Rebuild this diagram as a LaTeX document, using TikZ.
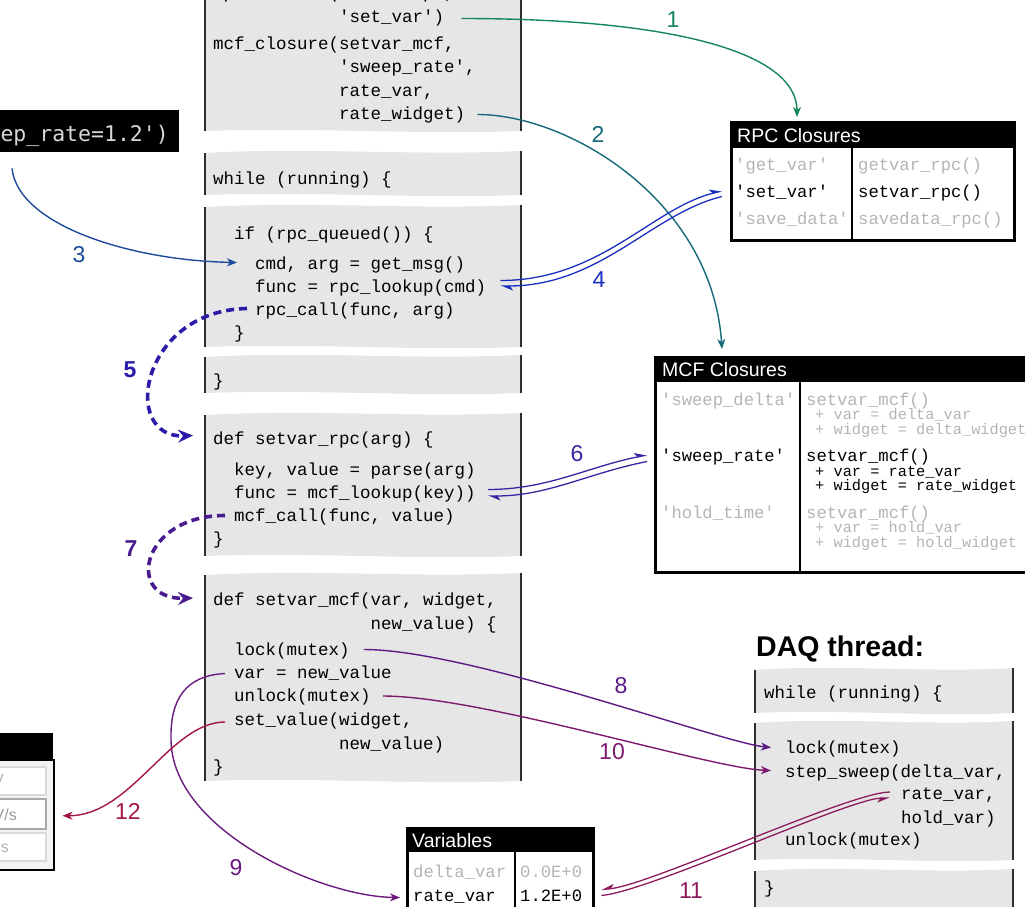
\documentclass[tikz,border=0pt]{standalone}
\usepackage{fontspec}
\setmainfont{Liberation Sans}
\setsansfont{Liberation Sans}
\setmonofont{Liberation Mono}
\newfontfamily\termfont{DejaVu Sans Mono}
\usetikzlibrary{arrows.meta,calc}

\definecolor{segfill}{HTML}{E6E6E6}
\definecolor{segedge}{HTML}{2E2E2E}
\definecolor{dimgrey}{HTML}{B4B4B4}
\definecolor{termgrey}{HTML}{D8D8D8}
\definecolor{guibg}{HTML}{F3F3F3}
\definecolor{fieldline}{HTML}{DADADA}
\definecolor{fieldsel}{HTML}{A9A9A9}
\definecolor{guitext}{HTML}{9A9A9A}
\definecolor{cOne}{HTML}{14875A}
\definecolor{cTwo}{HTML}{15697A}
\definecolor{cThree}{HTML}{1C4B9C}
\definecolor{cFour}{HTML}{1A2FBF}
\definecolor{cFive}{HTML}{2A1CA8}
\definecolor{cSix}{HTML}{3B23A3}
\definecolor{cSeven}{HTML}{4B1C8E}
\definecolor{cEight}{HTML}{5C1A86}
\definecolor{cNine}{HTML}{6B1A80}
\definecolor{cTen}{HTML}{7E1A6E}
\definecolor{cEleven}{HTML}{8D1A5E}
\definecolor{cTwelve}{HTML}{A31547}

% one torn-off strip of source code: x-left, x-right, top, bottom
\newcommand\codeseg[4]{%
  \pgfmathsetmacro\segA{#1+(#2-#1)/3}%
  \pgfmathsetmacro\segB{#1+2*(#2-#1)/3}%
  \fill[segfill] (#1,#3) .. controls (\segA,#3-6) and (\segB,#3+3) .. (#2,#3-2)
     -- (#2,#4) .. controls (\segB,#4+4) and (\segA,#4-4) .. (#1,#4) -- cycle;
  \draw[segedge, line width=2pt] (#1,#3) -- (#1,#4) (#2,#3-2) -- (#2,#4);
}

\tikzset{
  code/.style={anchor=base west, inner sep=0pt, text height=12.5pt, text depth=3.5pt,
    font=\ttfamily\fontsize{17.5pt}{17.5pt}\selectfont},
  cell/.style={code, font=\ttfamily\fontsize{17.2pt}{17.2pt}\selectfont},
  sub/.style={code, font=\ttfamily\fontsize{15.3pt}{15.3pt}\selectfont},
  dim/.style={text=dimgrey},
  hdr/.style={anchor=base west, inner sep=0pt, text=white,
    font=\fontsize{19.5pt}{19.5pt}\selectfont},
  tbl/.style={draw=black, line width=2pt, anchor=north west, inner sep=0pt},
  lbl/.style={inner sep=0pt, font=\fontsize{23pt}{23pt}\selectfont},
  blbl/.style={inner sep=0pt, font=\bfseries\fontsize{23pt}{23pt}\selectfont},
  arr/.style={line width=1.4pt, -{Stealth[length=10pt,width=8pt,inset=3pt]}},
  dsh/.style={line width=3.6pt, dash pattern=on 8pt off 5pt,
    -{Stealth[length=15pt,width=13pt,inset=5pt]}},
  hp/.style={line width=1.3pt, -{Stealth[harpoon,length=11pt,width=9pt,inset=3pt]}},
  hps/.style={line width=1.3pt, -{Stealth[harpoon,swap,length=11pt,width=9pt,inset=3pt]}},
  field/.style={fill=white, draw=fieldline, line width=1.5pt, anchor=north west,
    inner sep=0pt, minimum width=50pt, minimum height=28pt},
  guitxt/.style={anchor=base east, inner sep=0pt, text=guitext,
    font=\fontsize{16pt}{16pt}\selectfont},
}

\begin{document}
\begin{tikzpicture}[x=1pt,y=-1pt]
\useasboundingbox (0,0) rectangle (1025,907);

% ---------- main thread source strips ----------
\codeseg{205}{521}{-10}{131}
\codeseg{205}{521}{153}{195}
\codeseg{205}{521}{207}{347}
\codeseg{205}{521}{357}{393}
\codeseg{205}{521}{415}{556}
\codeseg{205}{521}{575}{781}

\node[code] (a0) at (213,-1) {rpc\_closure(setvar\_rpc,};
\node[code] (a1) at (339,23) {'set\_var')};
\node[code] (a2) at (213,50) {mcf\_closure(setvar\_mcf,};
\node[code] (a3) at (339,73) {'sweep\_rate',};
\node[code] (a4) at (339,96) {rate\_var,};
\node[code] (a5) at (339,119) {rate\_widget)};

\node[code] (b1) at (213,184) {while (running) \{};

\node[code] (c1) at (234,239) {if (rpc\_queued()) \{};
\node[code] (c2) at (255,269) {cmd, arg = get\_msg()};
\node[code] (c3) at (255,292) {func = rpc\_lookup(cmd)};
\node[code] (c4) at (255,315) {rpc\_call(func, arg)};
\node[code] (c5) at (234,338) {\}};

\node[code] (d1) at (213,386) {\}};

\node[code] (e1) at (213,444) {def setvar\_rpc(arg) \{};
\node[code] (e2) at (234,475) {key, value = parse(arg)};
\node[code] (e3) at (234,498) {func = mcf\_lookup(key))};
\node[code] (e4) at (234,521) {mcf\_call(func, value)};
\node[code] (e5) at (213,544) {\}};

\node[code] (f1) at (213,605) {def setvar\_mcf(var, widget,};
\node[code] (f2) at (370.5,629) {new\_value) \{};
\node[code] (f3) at (234,655) {lock(mutex)};
\node[code] (f4) at (234,678) {var = new\_value};
\node[code] (f5) at (234,701.5) {unlock(mutex)};
\node[code] (f6) at (234,725) {set\_value(widget,};
\node[code] (f7) at (339,749) {new\_value)};
\node[code] (f8) at (213,772.5) {\}};

% ---------- DAQ thread ----------
\node[anchor=base west, inner sep=0pt, font=\bfseries\fontsize{28.5pt}{28.5pt}\selectfont]
  (daq) at (756,656) {DAQ thread:};
\codeseg{755}{1013}{670}{713}
\codeseg{755}{1013}{723}{860}
\codeseg{755}{1013}{871}{925}
\node[code] (g1) at (764,698) {while (running) \{};
\node[code] (h1) at (785,753) {lock(mutex)};
\node[code] (h2) at (785,777) {step\_sweep(delta\_var,};
\node[code] (h3) at (901,799) {rate\_var,};
\node[code] (h4) at (901,823) {hold\_var)};
\node[code] (h5) at (785,845) {unlock(mutex)};
\node[code] (i1) at (764,893) {\}};

% ---------- RPC closures table ----------
\node[tbl, minimum width=282pt, minimum height=117pt] (rpc) at (731,122) {};
\fill (rpc.north west) rectangle ($(rpc.north east)+(0,26)$);
\draw[line width=2pt] ($(rpc.north west)+(121,26)$) -- ($(rpc.south west)+(121,0)$);
\draw[line width=2pt] (rpc.north west) rectangle (rpc.south east);
\node[hdr] (rpch) at (737,142) {RPC Closures};
\node[cell, dim] (r1k) at (735,170) {'get\_var'};
\node[cell, dim] (r1v) at (858,170) {getvar\_rpc()};
\node[cell] (r2k) at (735,197) {'set\_var'};
\node[cell] (r2v) at (858,197) {setvar\_rpc()};
\node[cell, dim] (r3k) at (735,224) {'save\_data'};
\node[cell, dim] (r3v) at (858,224) {savedata\_rpc()};

% ---------- MCF closures table ----------
\node[tbl, minimum width=400pt, minimum height=214pt] (mcf) at (655,357) {};
\fill (mcf.north west) rectangle ($(mcf.north east)+(0,25)$);
\draw[line width=2pt] ($(mcf.north west)+(145,25)$) -- ($(mcf.south west)+(145,0)$);
\draw[line width=2pt] (mcf.north west) rectangle (mcf.south east);
\node[hdr] (mcfh) at (662,376) {MCF Closures};
\node[cell, dim] (m1k) at (661,405) {'sweep\_delta'};
\node[cell, dim] (m1v) at (806,405) {setvar\_mcf()};
\node[sub, dim] (m1a) at (815,419.5) {+ var = delta\_var};
\node[sub, dim] (m1b) at (815,434) {+ widget = delta\_widget};
\node[cell] (m2k) at (661,461) {'sweep\_rate'};
\node[cell] (m2v) at (806,461) {setvar\_mcf()};
\node[sub] (m2a) at (815,476) {+ var = rate\_var};
\node[sub] (m2b) at (815,490.5) {+ widget = rate\_widget};
\node[cell, dim] (m3k) at (661,518) {'hold\_time'};
\node[cell, dim] (m3v) at (806,518) {setvar\_mcf()};
\node[sub, dim] (m3a) at (815,532.5) {+ var = hold\_var};
\node[sub, dim] (m3b) at (815,547) {+ widget = hold\_widget};

% ---------- variables table ----------
\node[tbl, minimum width=185pt, minimum height=100pt] (vars) at (407,828) {};
\fill (vars.north west) rectangle ($(vars.north east)+(0,24)$);
\draw[line width=2pt] ($(vars.north west)+(108,24)$) -- ($(vars.south west)+(108,0)$);
\draw[line width=2pt] (vars.north west) rectangle (vars.south east);
\node[hdr] (varsh) at (412,847) {Variables};
\node[cell, dim] (v1k) at (413,877) {delta\_var};
\node[cell, dim] (v1v) at (520,877) {0.0E+0};
\node[cell] (v2k) at (413,901) {rate\_var};
\node[cell] (v2v) at (520,901) {1.2E+0};

% ---------- console and GUI panel ----------
\node[fill=black, anchor=north west, inner sep=0pt, minimum width=184pt, minimum height=42pt]
  (term) at (-5,110) {};
\node[anchor=base east, inner sep=0pt, text=termgrey, font=\termfont\fontsize{21.5pt}{21.5pt}\selectfont]
  (termtxt) at (169,141) {ep\_rate=1.2')};

\node[fill=black, anchor=north west, inner sep=0pt, minimum width=58pt, minimum height=26pt]
  (guihdr) at (-5,733) {};
\node[fill=guibg, draw=black, line width=1.5pt, anchor=north west, inner sep=0pt,
  minimum width=58pt, minimum height=110pt] (gui) at (-5,759) {};
\node[field] (fld1) at (-5,766) {};
\node[field, draw=fieldsel, minimum height=30pt] (fld2) at (-5,798) {};
\node[field] (fld3) at (-5,832) {};
\node[guitxt, text=dimgrey] (fld1t) at (4,785) {V};
\node[guitxt] (fld2t) at (17,820) {V/s};
\node[guitxt, text=dimgrey] (fld3t) at (9,852) {s};

% ---------- connectors ----------
\draw[arr, cOne] ($(a1.east)+(17,0)$) .. controls +(210,0) and +(0,-65) .. ($(rpc.north west)+(66,-5)$);
\node[lbl, text=cOne] (l1) at (673,20) {1};

\draw[arr, cTwo] ($(a5.east)+(12,0)$) .. controls +(92,0) and +(-10,-148) .. ($(mcf.north west)+(67,-8)$);
\node[lbl, text=cTwo] (l2) at (598,134) {2};

\draw[arr, cThree] ($(term.south west)+(17,16)$) .. controls +(6,57) and +(-106,-2) .. ($(c2.west)+(-18,-2)$);
\node[lbl, text=cThree] (l3) at (79,255) {3};

\draw[hp, cFour] ($(c3.east)+(14,-7)$) .. controls +(100,0) and +(-70,17) .. ($(r2k.west)+(-13,-1.5)$);
\draw[hp, cFour] ($(r2k.west)+(-13,4)$) .. controls +(-70,17) and +(100,0) .. ($(c3.east)+(14,-1.5)$);
\node[lbl, text=cFour] (l4) at (599,280) {4};

\draw[dsh, cFive] ($(c4.west)+(-8,-2)$) .. controls +(-107,2) and +(-73,3) .. ($(e1.west)+(-20,-4)$);
\node[blbl, text=cFive] (l5) at (130,370) {5};

\draw[hp, cSix] ($(e3.east)+(12,-4)$) .. controls +(60,0) and +(-60,12) .. ($(m2k.west)+(-14,-1.5)$);
\draw[hp, cSix] ($(m2k.west)+(-14,5)$) .. controls +(-60,12) and +(60,0) .. ($(e3.east)+(12,2.5)$);
\node[lbl, text=cSix] (l6) at (577,454) {6};

\draw[dsh, cSeven] ($(e4.west)+(-9,-1)$) .. controls +(-85,0) and +(-68,2) .. ($(f1.west)+(-20,-2.5)$);
\node[blbl, text=cSeven] (l7) at (131,549) {7};

\draw[arr, cEight] ($(f3.east)+(14,-1)$) .. controls +(105,0) and +(-50,-5) .. ($(h1.west)+(-14,-1)$);
\node[lbl, text=cEight] (l8) at (621,686) {8};

\coordinate (bend9) at (171,740);
\draw[arr, cNine] ($(f4.west)+(-9,0)$) .. controls +(-40,2) and +(-1,-40) .. (bend9)
  .. controls +(1,90) and +(-80,-1) .. ($(v2k.west)+(-13,1)$);
\node[lbl, text=cNine] (l9) at (236,868) {9};

\draw[arr, cTen] ($(f5.east)+(12,-1)$) .. controls +(98,0) and +(-60,-2) .. ($(h2.west)+(-14,-2)$);
\node[lbl, text=cTen] (l10) at (612,752) {10};

\draw[hps, cEleven] ($(h3.west)+(-11,-2.5)$) .. controls +(-40,0) and +(48,-4) .. ($(v2v.east)+(19,-7)$);
\draw[hps, cEleven] ($(v2v.east)+(19,-1)$) .. controls +(48,-4) and +(-40,0) .. ($(h3.west)+(-11,3.5)$);
\node[lbl, text=cEleven] (l11) at (691,891) {11};

\draw[arr, cTwelve] ($(f6.west)+(-9,1.5)$) .. controls +(-55,0) and +(69,0) .. ($(fld2.east)+(16,2)$);
\node[lbl, text=cTwelve] (l12) at (128,811) {12};
\end{tikzpicture}
\end{document}
